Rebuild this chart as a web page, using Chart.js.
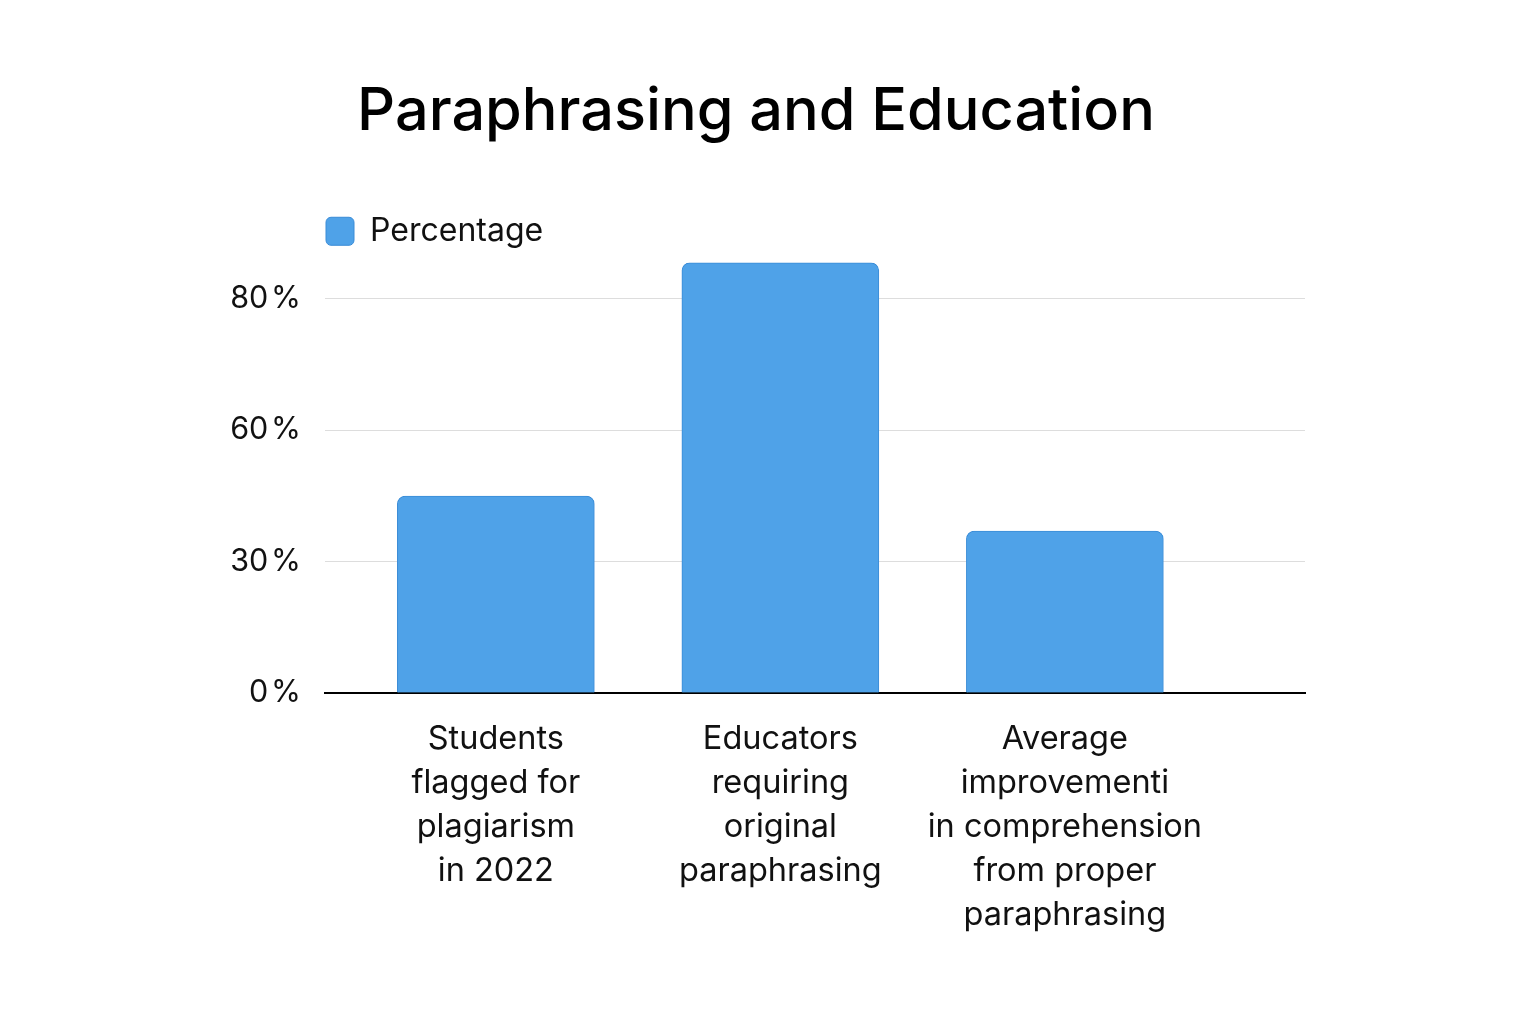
<!DOCTYPE html>
<html>
<head>
<meta charset="utf-8">
<title>Paraphrasing and Education</title>
<script src="https://cdn.jsdelivr.net/npm/chart.js@4.4.1/dist/chart.umd.min.js"></script>
<style>
  html, body { margin: 0; padding: 0; background: #fff; }
  #wrap { width: 1536px; height: 1024px; }
</style>
</head>
<body>
<div id="wrap"><canvas id="chart"></canvas></div>
<script>
// data
var categories = [
    ["Students", "flagged for", "plagiarism", "in 2022"],
    ["Educators", "requiring", "original", "paraphrasing"],
    ["Average", "improvementi", "in comprehension", "from proper", "paraphrasing"]
]
var percentages = [45, 85.5, 37]
// the axis labels are evenly spaced but not evenly valued
var tickValues = [0, 30, 60, 80]
var tickLabels = ["0\u200A%", "30\u200A%", "60\u200A%", "80\u200A%"]

// percentage -> position on the evenly spaced tick axis (piecewise)
function toAxis(v) {
    for (var i = 0; i < tickValues.length - 1; i++) {
        if (v <= tickValues[i + 1]) {
            return i + (v - tickValues[i]) / (tickValues[i + 1] - tickValues[i])
        }
    }
    var n = tickValues.length - 1
    return n + (v - tickValues[n]) / (tickValues[n] - tickValues[n - 1])
}

var points = percentages.map(function (v, i) { return { x: i, y: toAxis(v) } })

var blue = 'rgb(79,162,232)'
var blueEdge = 'rgb(58,140,215)'
var font = "Inter, 'Noto Sans', sans-serif"

// put the legend over the left edge of the plot, like the reference
var legendLeft = {
    id: 'legendLeft',
    afterLayout: function (chart) {
        chart.legend.left = chart.chartArea.left + 1 - chart.options.plugins.legend.labels.padding
    }
}

var ctx = document.getElementById("chart")

var chartGraph = new Chart(ctx, {
    type: 'bar',
    data: {
        datasets: [{
            label: "Percentage",
            data: points,
            backgroundColor: blue,
            borderColor: blueEdge,
            borderWidth: 1,
            borderRadius: 8,
            borderSkipped: 'start',
            barThickness: 197,
            clip: false
        }]
    },
    plugins: [legendLeft],
    options: {
        responsive: true,
        maintainAspectRatio: false,
        devicePixelRatio: 1,
        animation: false,
        layout: { padding: { left: 207, right: 231, top: 0, bottom: 0 } },
        plugins: {
            title: {
                display: true,
                text: "Paraphrasing and Education",
                color: '#000',
                font: { family: font, size: 59.4, weight: '500', lineHeight: 1.2 },
                padding: { top: 77, bottom: 57 }
            },
            legend: {
                display: true,
                align: 'start',
                labels: {
                    color: '#111',
                    font: { family: font, size: 32 },
                    boxWidth: 28,
                    boxHeight: 28,
                    useBorderRadius: true,
                    borderRadius: 5,
                    padding: 10
                }
            },
            tooltip: { enabled: false }
        },
        scales: {
            x: {
                type: 'linear',
                offset: false,
                bounds: 'data',
                min: -0.6005,
                max: 2.844,
                afterBuildTicks: function (axis) {
                    axis.ticks = categories.map(function (c, i) { return { value: i } })
                },
                afterFit: function (axis) { axis.height = 331 },
                grid: { display: false, drawTicks: false },
                border: { display: true, color: '#000', width: 2 },
                ticks: {
                    padding: 24,
                    color: '#111',
                    font: { family: font, size: 32.5, lineHeight: 1.354 },
                    maxRotation: 0,
                    autoSkip: false,
                    callback: function (v) { return categories[v] }
                }
            },
            y: {
                min: 0,
                max: 3.317,
                afterBuildTicks: function (axis) {
                    axis.ticks = tickLabels.map(function (t, i) { return { value: i } })
                },
                afterFit: function (axis) { axis.width = 325 - 207 },
                grid: { color: '#dddddd', lineWidth: 1, drawTicks: false },
                border: { display: false },
                ticks: {
                    padding: 24,
                    color: '#111',
                    font: { family: font, size: 30.5 },
                    callback: function (v) { return tickLabels[v] }
                }
            }
        }
    }
})
</script>
</body>
</html>
